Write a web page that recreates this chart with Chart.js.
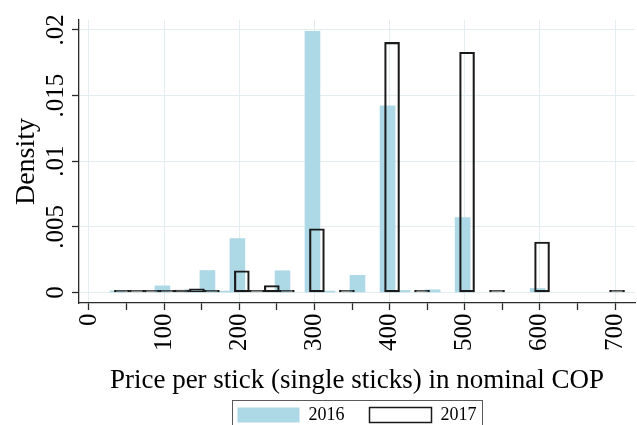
<!DOCTYPE html>
<html>
<head>
<meta charset="utf-8">
<style>
  html, body { margin: 0; padding: 0; background: #ffffff; }
  canvas { display: block; }
</style>
<script src="https://cdn.jsdelivr.net/npm/chart.js@4/dist/chart.umd.min.js"></script>
</head>
<body>
<canvas id="chart" width="637" height="425"></canvas>
<script>
// Histogram of single-stick prices: bin midpoints (COP) and densities by year
const bins2016 = [37.8, 97.7, 137.6, 157.6, 177.6, 197.5, 257.5, 297.4, 317.4, 357.3, 397.3, 417.3, 457.3, 497.2, 597.1];
const density2016 = [0.00012, 0.0005, 0.0002, 0.00167, 0.0001, 0.0041, 0.00165, 0.0199, 0.0001, 0.0013, 0.01421, 0.00015, 0.0002, 0.0057, 0.0003];

const bins2017 = [43.8, 63.8, 83.7, 103.7, 123.6, 143.6, 163.5, 203.4, 223.4, 243.3, 263.3, 303.3, 343.2, 403.3, 443.2, 503.1, 543.0, 602.9, 702.7];
const density2017 = [0.00012, 0.00003, 0.00002, 0.0001, 0.00018, 0.00028, 0.00008, 0.00165, 0.00003, 0.00053, 0.00003, 0.00485, 0.00013, 0.01906, 0.00008, 0.0183, 0.00003, 0.00384, 0.00003];

const seriesNames = ['2016', '2017'];

// Axis ticks: labelled every 100, unlabelled marks in between
const xMajorTicks = [0, 100, 200, 300, 400, 500, 600, 700];
const xMinorTicks = [50, 150, 250, 350, 450, 550, 650];
const yTickValues = [0, 0.005, 0.01, 0.015, 0.02];
const yTickLabels = ['0', '.005', '.01', '.015', '.02'];

const xTitle = 'Price per stick (single sticks) in nominal COP';
const yTitle = 'Density';

const FONT = "'Liberation Serif', 'Times New Roman', serif";
const AXIS = '#2a2a2a';
const GRID = '#e3edf0';
const BLUE = '#add8e6';

const X_MIN = -13.3, X_MAX = 726.6;
const Y_MIN = -0.000807, Y_MAX = 0.02076;

Chart.defaults.font.family = FONT;
Chart.defaults.color = '#000';

const xTicksAll = xMajorTicks.concat(xMinorTicks).sort((a, b) => a - b);

function clearPadding(s) {
  s.paddingLeft = 0; s.paddingRight = 0; s.paddingTop = 0; s.paddingBottom = 0;
}

// Frame drawn around the legend entries
const legendFrame = {
  id: 'legendFrame',
  afterDraw(chart) {
    const hb = chart.legend && chart.legend.legendHitBoxes;
    if (!hb || !hb.length) return;
    const first = hb[0], last = hb[hb.length - 1];
    const ctx = chart.ctx;
    const l = Math.round(first.left - 6) + 0.5;
    const r = Math.round(last.left + last.width + 5) + 0.5;
    const t = Math.round(first.top - 6) + 0.5;
    ctx.save();
    ctx.strokeStyle = '#5a5a5a';
    ctx.lineWidth = 1;
    ctx.strokeRect(l, t, r - l, chart.height + 20 - t);
    ctx.restore();
  }
};

new Chart(document.getElementById('chart'), {
  type: 'bar',
  data: {
    datasets: [
      {
        label: seriesNames[0],
        data: bins2016.map((x, i) => ({ x: x, y: density2016[i] })),
        xAxisID: 'x',
        backgroundColor: BLUE,
        borderWidth: 0,
        barPercentage: 1,
        categoryPercentage: 1,
        grouped: false,
        order: 2
      },
      {
        label: seriesNames[1],
        data: bins2017.map((x, i) => ({ x: x, y: density2017[i] })),
        xAxisID: 'x2',
        backgroundColor: 'rgba(255,255,255,0)',
        borderColor: '#1a1a1a',
        borderWidth: 1.5,
        borderSkipped: false,
        minBarLength: 2,
        barPercentage: 1,
        categoryPercentage: 1,
        grouped: false,
        order: 1
      }
    ]
  },
  options: {
    responsive: false,
    devicePixelRatio: 1,
    animation: false,
    events: [],
    layout: { padding: { top: 20, right: 2, left: 0, bottom: -9 } },
    plugins: {
      tooltip: { enabled: false },
      legend: {
        position: 'bottom',
        fullSize: false,
        align: 'center',
        labels: {
          boxWidth: 62,
          boxHeight: 15,
          padding: 25,
          font: { size: 18 },
          color: '#000',
          sort: (a, b) => a.datasetIndex - b.datasetIndex
        }
      }
    },
    scales: {
      x: {
        type: 'linear',
        position: 'bottom',
        min: X_MIN,
        max: X_MAX,
        offset: false,
        grid: {
          offset: false,
          color: (c) => (c.tick && xMajorTicks.includes(c.tick.value)) ? GRID : 'rgba(0,0,0,0)',
          lineWidth: 1,
          drawTicks: true,
          tickLength: 7,
          tickColor: AXIS,
          tickWidth: 1.3
        },
        border: { display: true, color: AXIS, width: 1.3 },
        afterBuildTicks: (s) => { s.ticks = xTicksAll.map(v => ({ value: v })); },
        ticks: {
          autoSkip: false,
          minRotation: 90,
          maxRotation: 90,
          padding: 3.4,
          font: { size: 25 },
          color: '#000',
          callback: (v) => xMajorTicks.includes(v) ? String(v) : ''
        },
        title: {
          display: true,
          text: xTitle,
          font: { size: 27 },
          color: '#000',
          padding: { top: 0, bottom: -16.6 }
        },
        afterFit: (s) => { s.height = 78; clearPadding(s); }
      },
      x2: {
        type: 'linear',
        display: false,
        min: X_MIN,
        max: X_MAX,
        offset: false,
        grid: { offset: false },
        afterFit: (s) => { clearPadding(s); }
      },
      y: {
        type: 'linear',
        position: 'left',
        min: Y_MIN,
        max: Y_MAX,
        grid: {
          color: GRID,
          lineWidth: 1,
          drawTicks: true,
          tickLength: 7,
          tickColor: AXIS,
          tickWidth: 1.3
        },
        border: { display: true, color: AXIS, width: 1.3 },
        afterBuildTicks: (s) => { s.ticks = yTickValues.map(v => ({ value: v })); },
        ticks: {
          autoSkip: false,
          minRotation: 90,
          maxRotation: 90,
          crossAlign: 'center',
          padding: -6.5,
          font: { size: 25 },
          color: '#000',
          callback: (v, i) => yTickLabels[i]
        },
        title: {
          display: true,
          text: yTitle,
          font: { size: 28 },
          color: '#000',
          padding: { top: 9.7, bottom: 0 }
        },
        afterFit: (s) => { s.width = 79; clearPadding(s); }
      }
    }
  },
  plugins: [legendFrame]
});
</script>
</body>
</html>
